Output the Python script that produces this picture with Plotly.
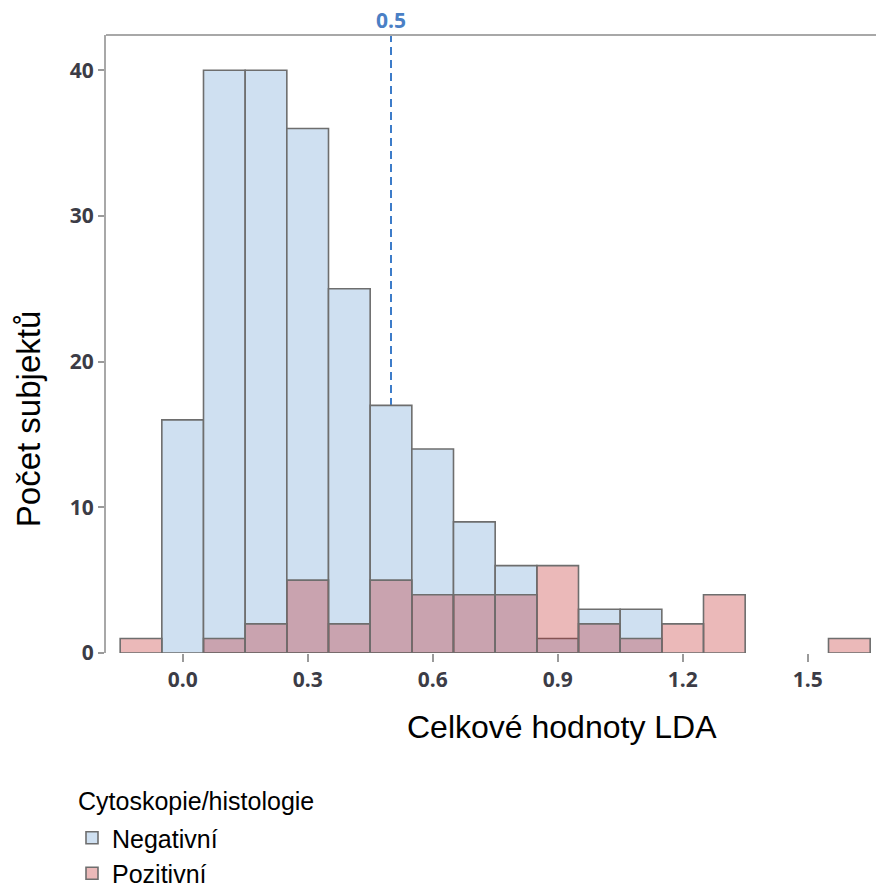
import plotly.graph_objects as go

# ---- data ----
bin_centers = [-0.1, 0.0, 0.1, 0.2, 0.3, 0.4, 0.5, 0.6, 0.7, 0.8, 0.9,
               1.0, 1.1, 1.2, 1.3, 1.4, 1.5, 1.6]
negativni = [0, 16, 40, 40, 36, 25, 17, 14, 9, 6, 1, 3, 3, 0, 0, 0, 0, 0]
pozitivni = [1, 0, 1, 2, 5, 2, 5, 4, 4, 4, 6, 2, 1, 2, 4, 0, 0, 1]
x_tick_vals = [0.0, 0.3, 0.6, 0.9, 1.2, 1.5]
x_tick_text = ["0.0", "0.3", "0.6", "0.9", "1.2", "1.5"]
y_tick_vals = [0, 10, 20, 30, 40]
threshold = 0.5
bin_width = 0.1

neg_plot = [v if v else None for v in negativni]
poz_plot = [v if v else None for v in pozitivni]

outline = "#6e6e6e"
tick_font = dict(family="Open Sans", size=21, color="#3c3c46")

W, H = 876, 888
# plot area in page pixels
L, R, T, B = 106, 876, 35, 653.5
PW, PH = R - L, B - T

def px(x):
    return (x - L) / PW

def py(y):
    return (B - y) / PH

fig = go.Figure()
fig.add_trace(go.Bar(
    x=bin_centers, y=neg_plot, width=bin_width, name="Negativní",
    marker=dict(color="rgb(207,224,241)", line=dict(color=outline, width=1.6)),
))
fig.add_trace(go.Bar(
    x=bin_centers, y=poz_plot, width=bin_width, name="Pozitivní",
    marker=dict(color="rgba(188,22,22,0.3)", line=dict(color=outline, width=1.6)),
))

fig.update_layout(
    width=W, height=H,
    margin=dict(l=L, r=W - R, t=T, b=H - B, autoexpand=False),
    barmode="overlay",
    plot_bgcolor="white", paper_bgcolor="white",
    font=dict(family="Liberation Sans, Arial", color="black"),
    showlegend=True,
    legend=dict(
        font=dict(size=25, family="Liberation Sans, Arial"),
        xref="container", yref="container",
        x=72 / W, y=1 - 815 / H, xanchor="left", yanchor="top",
        traceorder="normal", bgcolor="rgba(0,0,0,0)",
    ),
    xaxis=dict(
        range=[-0.184, 1.664], tickvals=x_tick_vals, ticktext=x_tick_text,
        ticks="outside", ticklen=8, tickwidth=1.5, tickcolor="#9a9a9a",
        showline=False, showgrid=False, zeroline=False,
        tickfont=dict(tick_font, weight="bold"),
    ),
    yaxis=dict(
        range=[0, 42.42], tickvals=y_tick_vals,
        ticks="outside", ticklen=6, tickwidth=1.5, tickcolor="#9a9a9a",
        showline=True, linecolor="#a8a8a8", linewidth=2,
        showgrid=False, zeroline=False,
        tickfont=dict(tick_font, weight="bold"),
    ),
)

# top frame line
fig.add_shape(type="line", xref="paper", yref="paper", x0=0, x1=1, y0=1, y1=1,
              line=dict(color="#a8a8a8", width=2))
# threshold line
fig.add_shape(type="line", xref="x", yref="paper", x0=threshold, x1=threshold,
              y0=0, y1=1, layer="below",
              line=dict(color="#3d7cc9", width=2, dash="8px,5px"))
fig.add_annotation(x=threshold, y=py(20), xref="x", yref="paper", yanchor="middle",
                   text=str(threshold), showarrow=False,
                   font=dict(family="Open Sans", size=21, color="#4a80c5", weight="bold"))

# axis titles
fig.add_annotation(x=px(562), y=py(728), xref="paper", yref="paper",
                   text="Celkové hodnoty LDA", showarrow=False, xanchor="center", yanchor="middle",
                   font=dict(family="Liberation Sans, Arial", size=32, color="black"))
fig.add_annotation(x=px(28.5), y=py(420), xref="paper", yref="paper",
                   text="Počet subjektů", showarrow=False, textangle=-90,
                   xanchor="center", yanchor="middle",
                   font=dict(family="Liberation Sans, Arial", size=33, color="black"))
# legend title
fig.add_annotation(x=px(76), y=py(802), xref="paper", yref="paper",
                   text="Cytoskopie/histologie", showarrow=False, xanchor="left", yanchor="middle",
                   font=dict(family="Liberation Sans, Arial", size=25, color="black"))

# remove the default page margin so the figure sits at the window origin
fig.write_html("out.html",
               config={"displayModeBar": False},
               post_script="document.body.style.margin='0';document.body.style.overflow='hidden';")
